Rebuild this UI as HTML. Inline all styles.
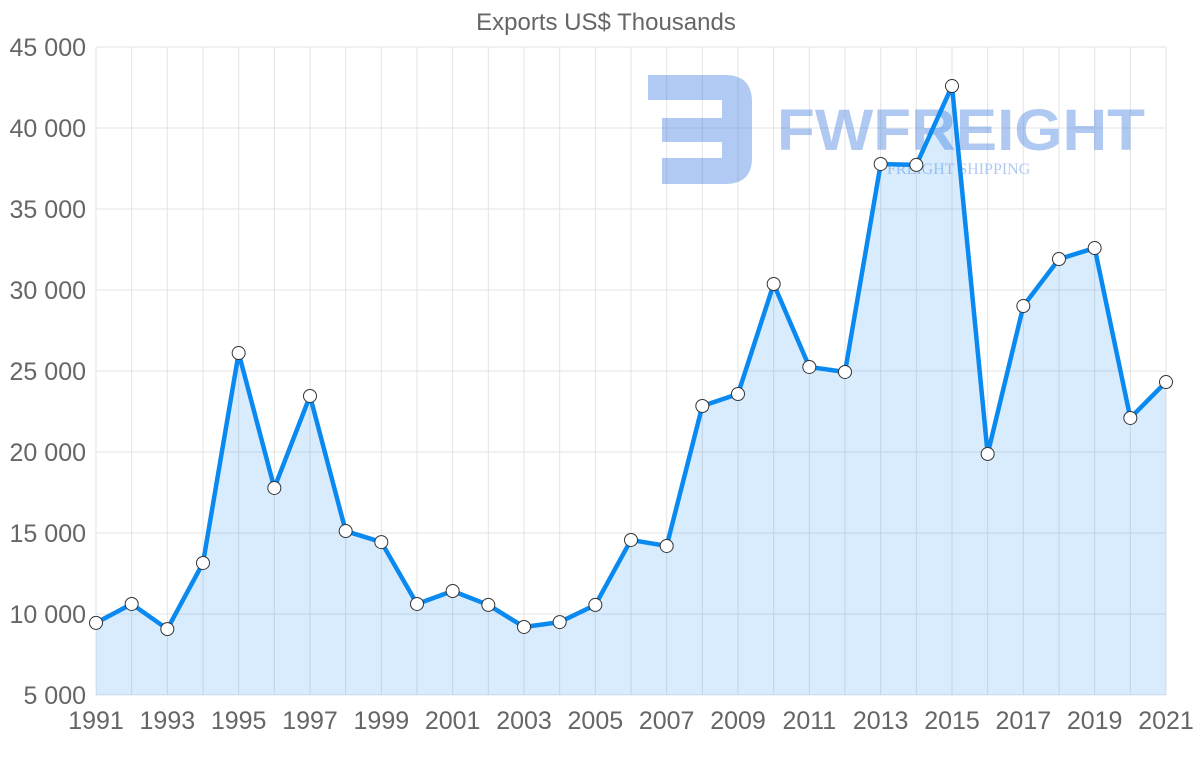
<!DOCTYPE html>
<html><head><meta charset="utf-8"><style>
body{margin:0;background:#fff;font-family:"Liberation Sans",sans-serif}
</style></head><body>
<svg id="chart" width="1200" height="763" xmlns="http://www.w3.org/2000/svg">
<text x="606" y="30" text-anchor="middle" font-size="24" fill="#666">Exports US$ Thousands</text>
<g id="grid"></g>
<g id="logo" opacity="0.4">
<path d="M648 75 H725 Q752 75 752 102 V158 Q752 184 725 184 H662 V158 H722 V142 H662 V118 H722 V100 H648 Z" fill="#3b7be0"/>
<text x="777" y="150" font-size="58" font-weight="bold" fill="#3b7be0" textLength="368" lengthAdjust="spacingAndGlyphs">FWFREIGHT</text>
<text x="887" y="174" font-size="16" font-family="Liberation Serif,serif" fill="#3b7be0">FREIGHT SHIPPING</text>
</g>
<g id="marks"></g>
<g id="axes"></g>
</svg>
<script>
const years=[1991,1992,1993,1994,1995,1996,1997,1998,1999,2000,2001,2002,2003,2004,2005,2006,2007,2008,2009,2010,2011,2012,2013,2014,2015,2016,2017,2018,2019,2020,2021];
const exportsVals=[9450,10620,9070,13150,26110,17780,23460,15120,14440,10620,11420,10560,9200,9500,10560,14570,14200,22840,23580,30370,25250,24940,37780,37720,42590,19880,29010,31910,32590,22100,24320];
const yTicks=[5000,10000,15000,20000,25000,30000,35000,40000,45000];
const yTickLabels=["5 000","10 000","15 000","20 000","25 000","30 000","35 000","40 000","45 000"];
const NS="http://www.w3.org/2000/svg";
const x0=96,x1=1166,y0=695,y1=47;
const xs=i=>x0+(x1-x0)*i/(years.length-1);
const ys=v=>y0-(v-5000)/40000*(y0-y1);
function mk(t,a,p){const e=document.createElementNS(NS,t);for(const k in a)e.setAttribute(k,a[k]);p.appendChild(e);return e;}
const grid=document.getElementById('grid'),marks=document.getElementById('marks'),axes=document.getElementById('axes');
yTicks.forEach((v,i)=>{
 const l=mk('line',{x1:x0,x2:x1,y1:ys(v),y2:ys(v),stroke:'#e3e3e3'},grid);
 
 
 const t=mk('text',{x:86,y:ys(v)+9,'text-anchor':'end','font-size':25,fill:'#666'},axes);
 t.textContent=yTickLabels[i];
 
 
});
years.forEach((y,i)=>{
 const l=mk('line',{x1:xs(i),x2:xs(i),y1:y1,y2:y0,stroke:'#e3e3e3'},grid);
 
 
 if(i%2==0){
  const t=mk('text',{x:xs(i),y:729,'text-anchor':'middle','font-size':25,fill:'#666'},axes);
  t.textContent=y;
  
  
 }
});
let d=exportsVals.map((v,i)=>(i?'L':'M')+xs(i)+' '+ys(v)).join(' ');
const area=mk('path',{d:d+` L${x1} ${y0} L${x0} ${y0} Z`,fill:'rgba(0,128,240,0.15)'},marks);


const line=mk('path',{d:d,fill:'none',stroke:'#0a8af0','stroke-width':4.5,'stroke-linejoin':'round'},marks);


exportsVals.forEach((v,i)=>{
 const c=mk('circle',{cx:xs(i),cy:ys(v),r:6.5,fill:'#fff',stroke:'#333','stroke-width':1},marks);
 
 
});
</script>
</body></html>
